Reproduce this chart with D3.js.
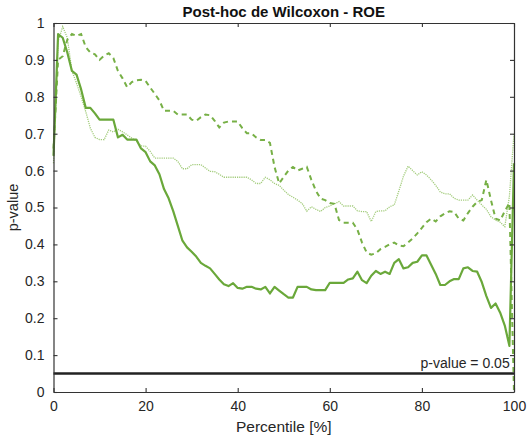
<!DOCTYPE html>
<html>
<head>
<meta charset="utf-8">
<script src="https://cdn.jsdelivr.net/npm/d3@7/dist/d3.min.js"></script>
<style>
  html, body { margin: 0; padding: 0; background: #fff; }
  svg { display: block; font-family: "Liberation Sans", Arial, sans-serif; }
</style>
</head>
<body>
<svg id="chart" width="531" height="441"></svg>
<script>
// Percentile positions 0..100
const percentiles = d3.range(0, 101);

// p-values along the percentile axis, one array per comparison
const seriesSolid = [
  0.64, 0.97, 0.96, 0.92, 0.87, 0.86, 0.82, 0.77, 0.77, 0.755,
  0.738, 0.738, 0.738, 0.738, 0.69, 0.697, 0.684, 0.684, 0.684, 0.66,
  0.65, 0.625, 0.614, 0.59, 0.55, 0.525, 0.49, 0.45, 0.41, 0.392,
  0.38, 0.367, 0.35, 0.342, 0.335, 0.32, 0.305, 0.292, 0.287, 0.295,
  0.282, 0.28, 0.285, 0.285, 0.28, 0.278, 0.285, 0.267, 0.285, 0.275,
  0.265, 0.256, 0.256, 0.285, 0.285, 0.285, 0.278, 0.276, 0.276, 0.276,
  0.296, 0.296, 0.296, 0.296, 0.305, 0.308, 0.326, 0.303, 0.295, 0.315,
  0.328, 0.32, 0.326, 0.32, 0.35, 0.36, 0.335, 0.338, 0.35, 0.353,
  0.37, 0.37, 0.345, 0.32, 0.29, 0.29, 0.3, 0.306, 0.306, 0.335,
  0.338, 0.328, 0.326, 0.298, 0.26, 0.228, 0.24, 0.215, 0.18, 0.125,
  0.62
];
const seriesDashed = [
  0.66, 0.9, 0.91, 0.955, 0.97, 0.965, 0.97, 0.935, 0.92, 0.915,
  0.9, 0.912, 0.918, 0.905, 0.87, 0.85, 0.826, 0.84, 0.845, 0.846,
  0.843, 0.825, 0.808, 0.79, 0.762, 0.762, 0.762, 0.752, 0.752, 0.752,
  0.738, 0.735, 0.745, 0.752, 0.75, 0.735, 0.717, 0.73, 0.733, 0.733,
  0.733, 0.715, 0.701, 0.701, 0.69, 0.683, 0.683, 0.675, 0.61, 0.565,
  0.583, 0.6, 0.61, 0.6, 0.605, 0.61, 0.575, 0.545, 0.524, 0.52,
  0.512, 0.51, 0.466, 0.459, 0.459, 0.459, 0.44, 0.405, 0.378, 0.372,
  0.376, 0.387, 0.393, 0.4, 0.405, 0.397, 0.395, 0.405, 0.416, 0.43,
  0.445, 0.46, 0.47, 0.462, 0.476, 0.484, 0.49, 0.488, 0.47, 0.465,
  0.485, 0.502, 0.515, 0.52, 0.575, 0.52, 0.47, 0.465, 0.49, 0.512,
  0.0
];
const seriesDotted = [
  0.62, 0.95, 0.99, 0.96, 0.87, 0.837, 0.8, 0.76, 0.715, 0.69,
  0.684, 0.684, 0.71, 0.705, 0.712, 0.705, 0.697, 0.688, 0.68, 0.667,
  0.666, 0.652, 0.634, 0.634, 0.634, 0.634, 0.634, 0.625, 0.605, 0.605,
  0.616, 0.616, 0.616, 0.607, 0.598, 0.597, 0.59, 0.582, 0.582, 0.582,
  0.582, 0.582, 0.582, 0.575, 0.565, 0.565, 0.582, 0.575, 0.565, 0.56,
  0.547, 0.535, 0.528, 0.52, 0.511, 0.49, 0.502, 0.495, 0.489, 0.5,
  0.504, 0.51, 0.516, 0.504, 0.504, 0.504, 0.491, 0.489, 0.489, 0.462,
  0.489, 0.491, 0.491, 0.502, 0.507, 0.545, 0.585, 0.612, 0.6, 0.588,
  0.597, 0.588, 0.575, 0.56, 0.542, 0.537, 0.537, 0.525, 0.52, 0.52,
  0.52, 0.534, 0.52, 0.507, 0.495, 0.475, 0.466, 0.46, 0.448, 0.53,
  0.70
];

// Significance threshold and tick values
const threshold = 0.05;
const thresholdLabel = "p-value = 0.05";
const xTicks = [0, 20, 40, 60, 80, 100];
const yTicks = [0, 0.1, 0.2, 0.3, 0.4, 0.5, 0.6, 0.7, 0.8, 0.9, 1];

const title = "Post-hoc de Wilcoxon - ROE";
const xLabel = "Percentile [%]";
const yLabel = "p-value";

const svg = d3.select("#chart");
const plotLeft = 53.5, plotRight = 514, plotTop = 23, plotBottom = 392;

const x = d3.scaleLinear().domain([0, 100]).range([plotLeft, plotRight]);
const y = d3.scaleLinear().domain([0, 1]).range([plotBottom, plotTop]);

const axisColor = "#333";
const fmt = d3.format("~g");

// Curves
const line = d3.line().x((d, i) => x(percentiles[i])).y(d => y(d));

svg.append("path").datum(seriesDotted)
  .attr("d", line)
  .attr("fill", "none")
  .attr("stroke", "#a3cc7c")
  .attr("stroke-width", 1.3)
  .attr("stroke-dasharray", "1.2,1");

svg.append("path").datum(seriesDashed)
  .attr("d", line)
  .attr("fill", "none")
  .attr("stroke", "#77b046")
  .attr("stroke-width", 2)
  .attr("stroke-dasharray", "5,4");

svg.append("path").datum(seriesSolid)
  .attr("d", line)
  .attr("fill", "none")
  .attr("stroke", "#6aa83a")
  .attr("stroke-width", 2.2)
  .attr("stroke-linejoin", "round");

// Threshold line
svg.append("line")
  .attr("x1", x(0)).attr("x2", x(100))
  .attr("y1", y(threshold)).attr("y2", y(threshold))
  .attr("stroke", "#222")
  .attr("stroke-width", 2.6);

svg.append("text")
  .attr("x", x(99.5) - 2)
  .attr("y", y(threshold) - 6)
  .attr("text-anchor", "end")
  .attr("font-size", 14)
  .attr("fill", "#262626")
  .text(thresholdLabel);

// Axes with inward ticks
const gx = svg.append("g").attr("transform", `translate(0,${plotBottom})`)
  .call(d3.axisBottom(x).tickValues(xTicks).tickSizeInner(-4).tickSizeOuter(0).tickPadding(9).tickFormat(fmt));
const gxTop = svg.append("g").attr("transform", `translate(0,${plotTop})`)
  .call(d3.axisTop(x).tickValues(xTicks).tickSizeInner(-4).tickSizeOuter(0).tickFormat(""));
const gy = svg.append("g").attr("transform", `translate(${plotLeft},0)`)
  .call(d3.axisLeft(y).tickValues(yTicks).tickSizeInner(-4).tickSizeOuter(0).tickPadding(9).tickFormat(fmt));
const gyRight = svg.append("g").attr("transform", `translate(${plotRight},0)`)
  .call(d3.axisRight(y).tickValues(yTicks).tickSizeInner(-4).tickSizeOuter(0).tickFormat(""));

[gx, gxTop, gy, gyRight].forEach(g => {
  g.select(".domain").attr("stroke", axisColor).attr("stroke-width", 1.2);
  g.selectAll(".tick line").attr("stroke", axisColor).attr("stroke-width", 1.1);
  g.selectAll(".tick text").attr("fill", "#262626").attr("font-size", 14)
    .attr("font-family", "'Liberation Sans', Arial, sans-serif");
});

// Title and axis labels
svg.append("text")
  .attr("x", (plotLeft + plotRight) / 2)
  .attr("y", 17)
  .attr("text-anchor", "middle")
  .attr("font-size", 15)
  .attr("font-weight", "bold")
  .attr("fill", "#111")
  .text(title);

svg.append("text")
  .attr("x", (plotLeft + plotRight) / 2)
  .attr("y", 432)
  .attr("text-anchor", "middle")
  .attr("font-size", 15.5)
  .attr("fill", "#262626")
  .text(xLabel);

svg.append("text")
  .attr("transform", `translate(18,${(plotTop + plotBottom) / 2}) rotate(-90)`)
  .attr("text-anchor", "middle")
  .attr("font-size", 14.5)
  .attr("fill", "#262626")
  .text(yLabel);
</script>
</body>
</html>
